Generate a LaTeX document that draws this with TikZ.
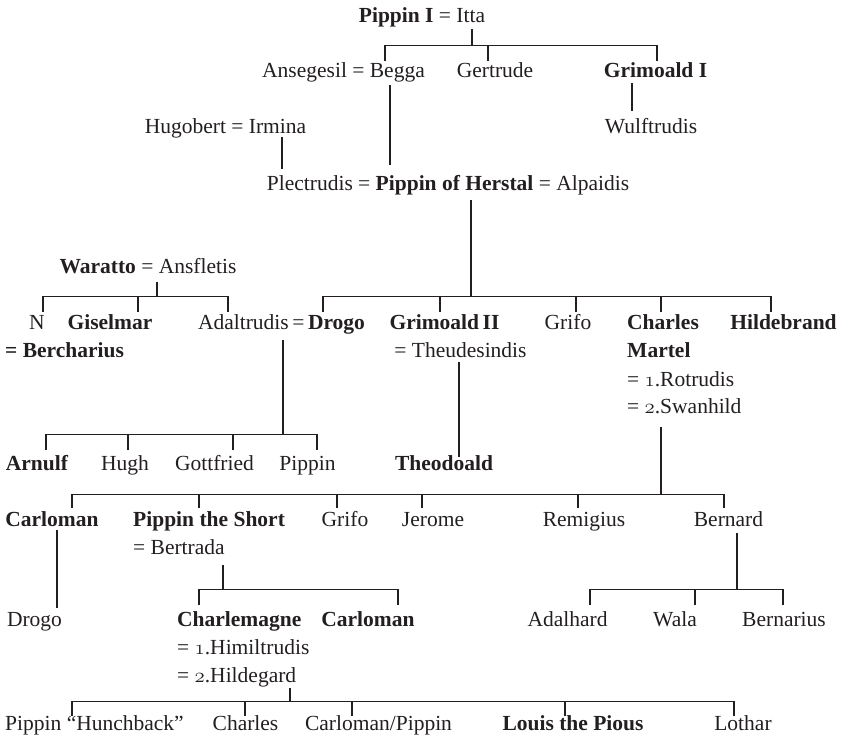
\documentclass[tikz,border=0pt]{standalone}
\usepackage{fontspec}
\setmainfont{Liberation Serif}
\definecolor{ink}{RGB}{35,31,32}
% old-style figures for the numbered marriages
\newcommand{\osnum}[1]{{\usefont{OML}{cmm}{m}{it}#1}}
\begin{document}
\begin{tikzpicture}[x=1pt,y=-1pt,
  person/.style={anchor=base, inner xsep=0pt, inner ysep=1pt,
    text height=15pt, text depth=5pt, text=ink,
    font=\fontsize{21.5}{27}\selectfont},
  block/.style={person, anchor=base west},
  kin/.style={draw=ink, line width=1.2pt}]
\useasboundingbox (0,0) rectangle (844,745);

% ---- people ----
\node[person] (top) at (422,22) {\textbf{Pippin I} = Itta};
\node[person] (ansbeg) at (343.5,77) {Ansegesil = Begga};
\node[person] (gertrude) at (495,77) {Gertrude};
\node[person] (grimI) at (655.5,77) {\textbf{Grimoald I}};
\node[person] (wulf) at (651,133) {Wulftrudis};
\node[person] (hugirm) at (225.5,133) {Hugobert = Irmina};
\node[person] (herstal) at (448,190) {Plectrudis = \textbf{Pippin of Herstal} = Alpaidis};
\node[person] (waratto) at (148,273) {\textbf{Waratto} = Ansfletis};
\node[person] (nn) at (37,329) {N};
\node[person] (bercharius) at (64.5,357) {\textbf{= Bercharius}};
\node[person] (giselmar) at (110,329) {\textbf{Giselmar}};
\node[person] (adaldrogo) at (281.5,329) {Adaltrudis\,=\,\textbf{Drogo}};
\node[person] (grimII) at (444.5,329) {\textbf{Grimoald\,II}};
\node[person] (theud) at (460.5,357) {= Theudesindis};
\node[person] (grifoA) at (568,329) {Grifo};
\node[block] (charles) at (627,329) {\textbf{Charles}};
\node[block] (martel) at (627,357) {\textbf{Martel}};
\node[block] (rotrudis) at (627,386) {= \osnum{1}.Rotrudis};
\node[block] (swanhild) at (627,413) {= \osnum{2}.Swanhild};
\node[person] (hildebrand) at (783.5,329) {\textbf{Hildebrand}};
\node[person] (arnulf) at (37,470) {\textbf{Arnulf}};
\node[person] (hugh) at (125,470) {Hugh};
\node[person] (gottfried) at (214.5,470) {Gottfried};
\node[person] (pippinA) at (307.5,470) {Pippin};
\node[person] (theodoald) at (444,470) {\textbf{Theodoald}};
\node[person] (carlomanA) at (52,526) {\textbf{Carloman}};
\node[block] (pipshort) at (133,526) {\textbf{Pippin the Short}};
\node[block] (bertrada) at (133,554) {= Bertrada};
\node[person] (grifoB) at (345,526) {Grifo};
\node[person] (jerome) at (433,526) {Jerome};
\node[person] (remigius) at (584,526) {Remigius};
\node[person] (bernard) at (728.5,526) {Bernard};
\node[person] (drogoB) at (34.5,626) {Drogo};
\node[block] (charlemagne) at (177,626) {\textbf{Charlemagne}};
\node[block] (himil) at (177,654) {= \osnum{1}.Himiltrudis};
\node[block] (hildegard) at (177,682) {= \osnum{2}.Hildegard};
\node[person] (carlomanB) at (368,626) {\textbf{Carloman}};
\node[person] (adalhard) at (567.5,626) {Adalhard};
\node[person] (wala) at (675,626) {Wala};
\node[person] (bernarius) at (784,626) {Bernarius};
\node[person] (hunch) at (94.5,730) {Pippin “Hunchback”};
\node[person] (charlesB) at (245.5,730) {Charles};
\node[person] (carlpip) at (378.5,730) {Carloman/Pippin};
\node[person] (louis) at (573,730) {\textbf{Louis the Pious}};
\node[person] (lothar) at (743,730) {Lothar};

% ---- Pippin I and Itta ----
\draw[kin] ([xshift=50pt,yshift=-1pt]top.south) -- ++(0,16) coordinate (jA);
\coordinate (dAns) at ([xshift=41.5pt]ansbeg.north);
\coordinate (dGer) at ([xshift=-7pt]gertrude.north);
\coordinate (dGrimI) at ([xshift=1.5pt]grimI.north);
\draw[kin] (dAns) |- (jA) -| (dGrimI) (dGer) -- (dGer |- jA);

% Grimoald I to Wulftrudis
\draw[kin] ([xshift=-23.5pt]grimI.south) -- ([xshift=-19pt,yshift=6pt]wulf.north);

% parents of Pippin of Herstal and Plectrudis
\draw[kin] ([xshift=46.5pt,yshift=-2pt]ansbeg.south) -- ([xshift=-58pt,yshift=9pt]herstal.north);
\draw[kin] ([xshift=56.5pt,yshift=2pt]hugirm.south) -- ([xshift=-166pt,yshift=5pt]herstal.north);

% ---- children of Pippin of Herstal ----
\draw[kin] ([xshift=23pt,yshift=-4pt]herstal.south) -- ++(0,96) coordinate (jE);
\coordinate (dDrogo) at ([xshift=41.5pt,yshift=1pt]adaldrogo.north);
\coordinate (dGrimII) at ([xshift=-4.5pt,yshift=1pt]grimII.north);
\coordinate (dGrifoA) at ([xshift=8pt,yshift=1pt]grifoA.north);
\coordinate (dCharles) at ([xshift=34pt,yshift=1pt]charles.north west);
\coordinate (dHilde) at ([xshift=-12.5pt,yshift=1pt]hildebrand.north);
\draw[kin] (dDrogo) |- (jE) -| (dHilde)
  (dGrimII) -- (dGrimII |- jE) (dGrifoA) -- (dGrifoA |- jE) (dCharles) -- (dCharles |- jE);

% ---- children of Waratto ----
\draw[kin] ([xshift=9pt,yshift=-3pt]waratto.south) -- ++(0,14) coordinate (jF);
\coordinate (dN) at ([xshift=6pt,yshift=1pt]nn.north);
\coordinate (dGis) at ([xshift=28pt,yshift=1pt]giselmar.north);
\coordinate (dAdal) at ([xshift=-53.5pt,yshift=1pt]adaldrogo.north);
\draw[kin] (dN) |- (jF) -| (dAdal) (dGis) -- (dGis |- jF);

% ---- children of Adaltrudis and Drogo ----
\draw[kin] ([xshift=1.5pt,yshift=-5pt]adaldrogo.south) -- ++(0,94) coordinate (jG);
\coordinate (dArn) at ([xshift=9pt,yshift=4pt]arnulf.north);
\coordinate (dHugh) at ([xshift=3pt,yshift=4pt]hugh.north);
\coordinate (dGott) at ([xshift=18.5pt,yshift=4pt]gottfried.north);
\coordinate (dPipA) at ([xshift=9.5pt,yshift=4pt]pippinA.north);
\draw[kin] (dArn) |- (jG) -| (dPipA) (dHugh) -- (dHugh |- jG) (dGott) -- (dGott |- jG);

% Grimoald II to Theodoald
\draw[kin] ([xshift=-1.5pt,yshift=1pt]theud.south) -- ([xshift=15pt,yshift=-3pt]theodoald.north);

% ---- children of Charles Martel ----
\draw[kin] ([xshift=34pt,yshift=-8pt]swanhild.south west) -- ++(0,67) coordinate (jI);
\coordinate (dCarlA) at ([xshift=20pt,yshift=2pt]carlomanA.north);
\coordinate (dPipS) at ([xshift=66pt,yshift=2pt]pipshort.north west);
\coordinate (dGrifoB) at ([xshift=-8pt,yshift=2pt]grifoB.north);
\coordinate (dJer) at ([xshift=-11pt,yshift=2pt]jerome.north);
\coordinate (dRem) at ([xshift=-6pt,yshift=2pt]remigius.north);
\coordinate (dBern) at ([xshift=-4.5pt,yshift=2pt]bernard.north);
\draw[kin] (dCarlA) |- (jI) -| (dBern)
  (dPipS) -- (dPipS |- jI) (dGrifoB) -- (dGrifoB |- jI)
  (dJer) -- (dJer |- jI) (dRem) -- (dRem |- jI);

% Carloman to Drogo
\draw[kin] ([xshift=5pt,yshift=2pt]carlomanA.south) -- ([xshift=22.5pt,yshift=2pt]drogoB.north);

% ---- children of Pippin the Short ----
\draw[kin] ([xshift=90pt,yshift=-5pt]bertrada.south west) -- ++(0,24) coordinate (jK);
\coordinate (dChm) at ([xshift=22pt,yshift=5pt]charlemagne.north west);
\coordinate (dCarlB) at ([xshift=30pt,yshift=5pt]carlomanB.north);
\draw[kin] (dChm) |- (jK) -| (dCarlB);

% ---- children of Bernard ----
\draw[kin] ([xshift=8.5pt,yshift=-1pt]bernard.south) -- ++(0,56) coordinate (jL);
\coordinate (dAdh) at ([xshift=22.5pt,yshift=5pt]adalhard.north);
\coordinate (dWala) at ([xshift=20pt,yshift=5pt]wala.north);
\coordinate (dBnr) at ([xshift=-1pt,yshift=5pt]bernarius.north);
\draw[kin] (dAdh) |- (jL) -| (dBnr) (dWala) -- (dWala |- jL);

% ---- children of Charlemagne ----
\draw[kin] ([xshift=113pt]hildegard.south west) -- ++(0,13) coordinate (jM);
\coordinate (dHun) at ([xshift=-22.5pt,yshift=-2pt]hunch.north);
\coordinate (dChB) at ([xshift=-0.5pt,yshift=-2pt]charlesB.north);
\coordinate (dCP) at ([xshift=-26.5pt,yshift=-2pt]carlpip.north);
\coordinate (dLou) at ([xshift=-8pt,yshift=-2pt]louis.north);
\coordinate (dLot) at ([xshift=-9pt,yshift=-2pt]lothar.north);
\draw[kin] (dHun) |- (jM) -| (dLot)
  (dChB) -- (dChB |- jM) (dCP) -- (dCP |- jM) (dLou) -- (dLou |- jM);
\end{tikzpicture}
\end{document}
